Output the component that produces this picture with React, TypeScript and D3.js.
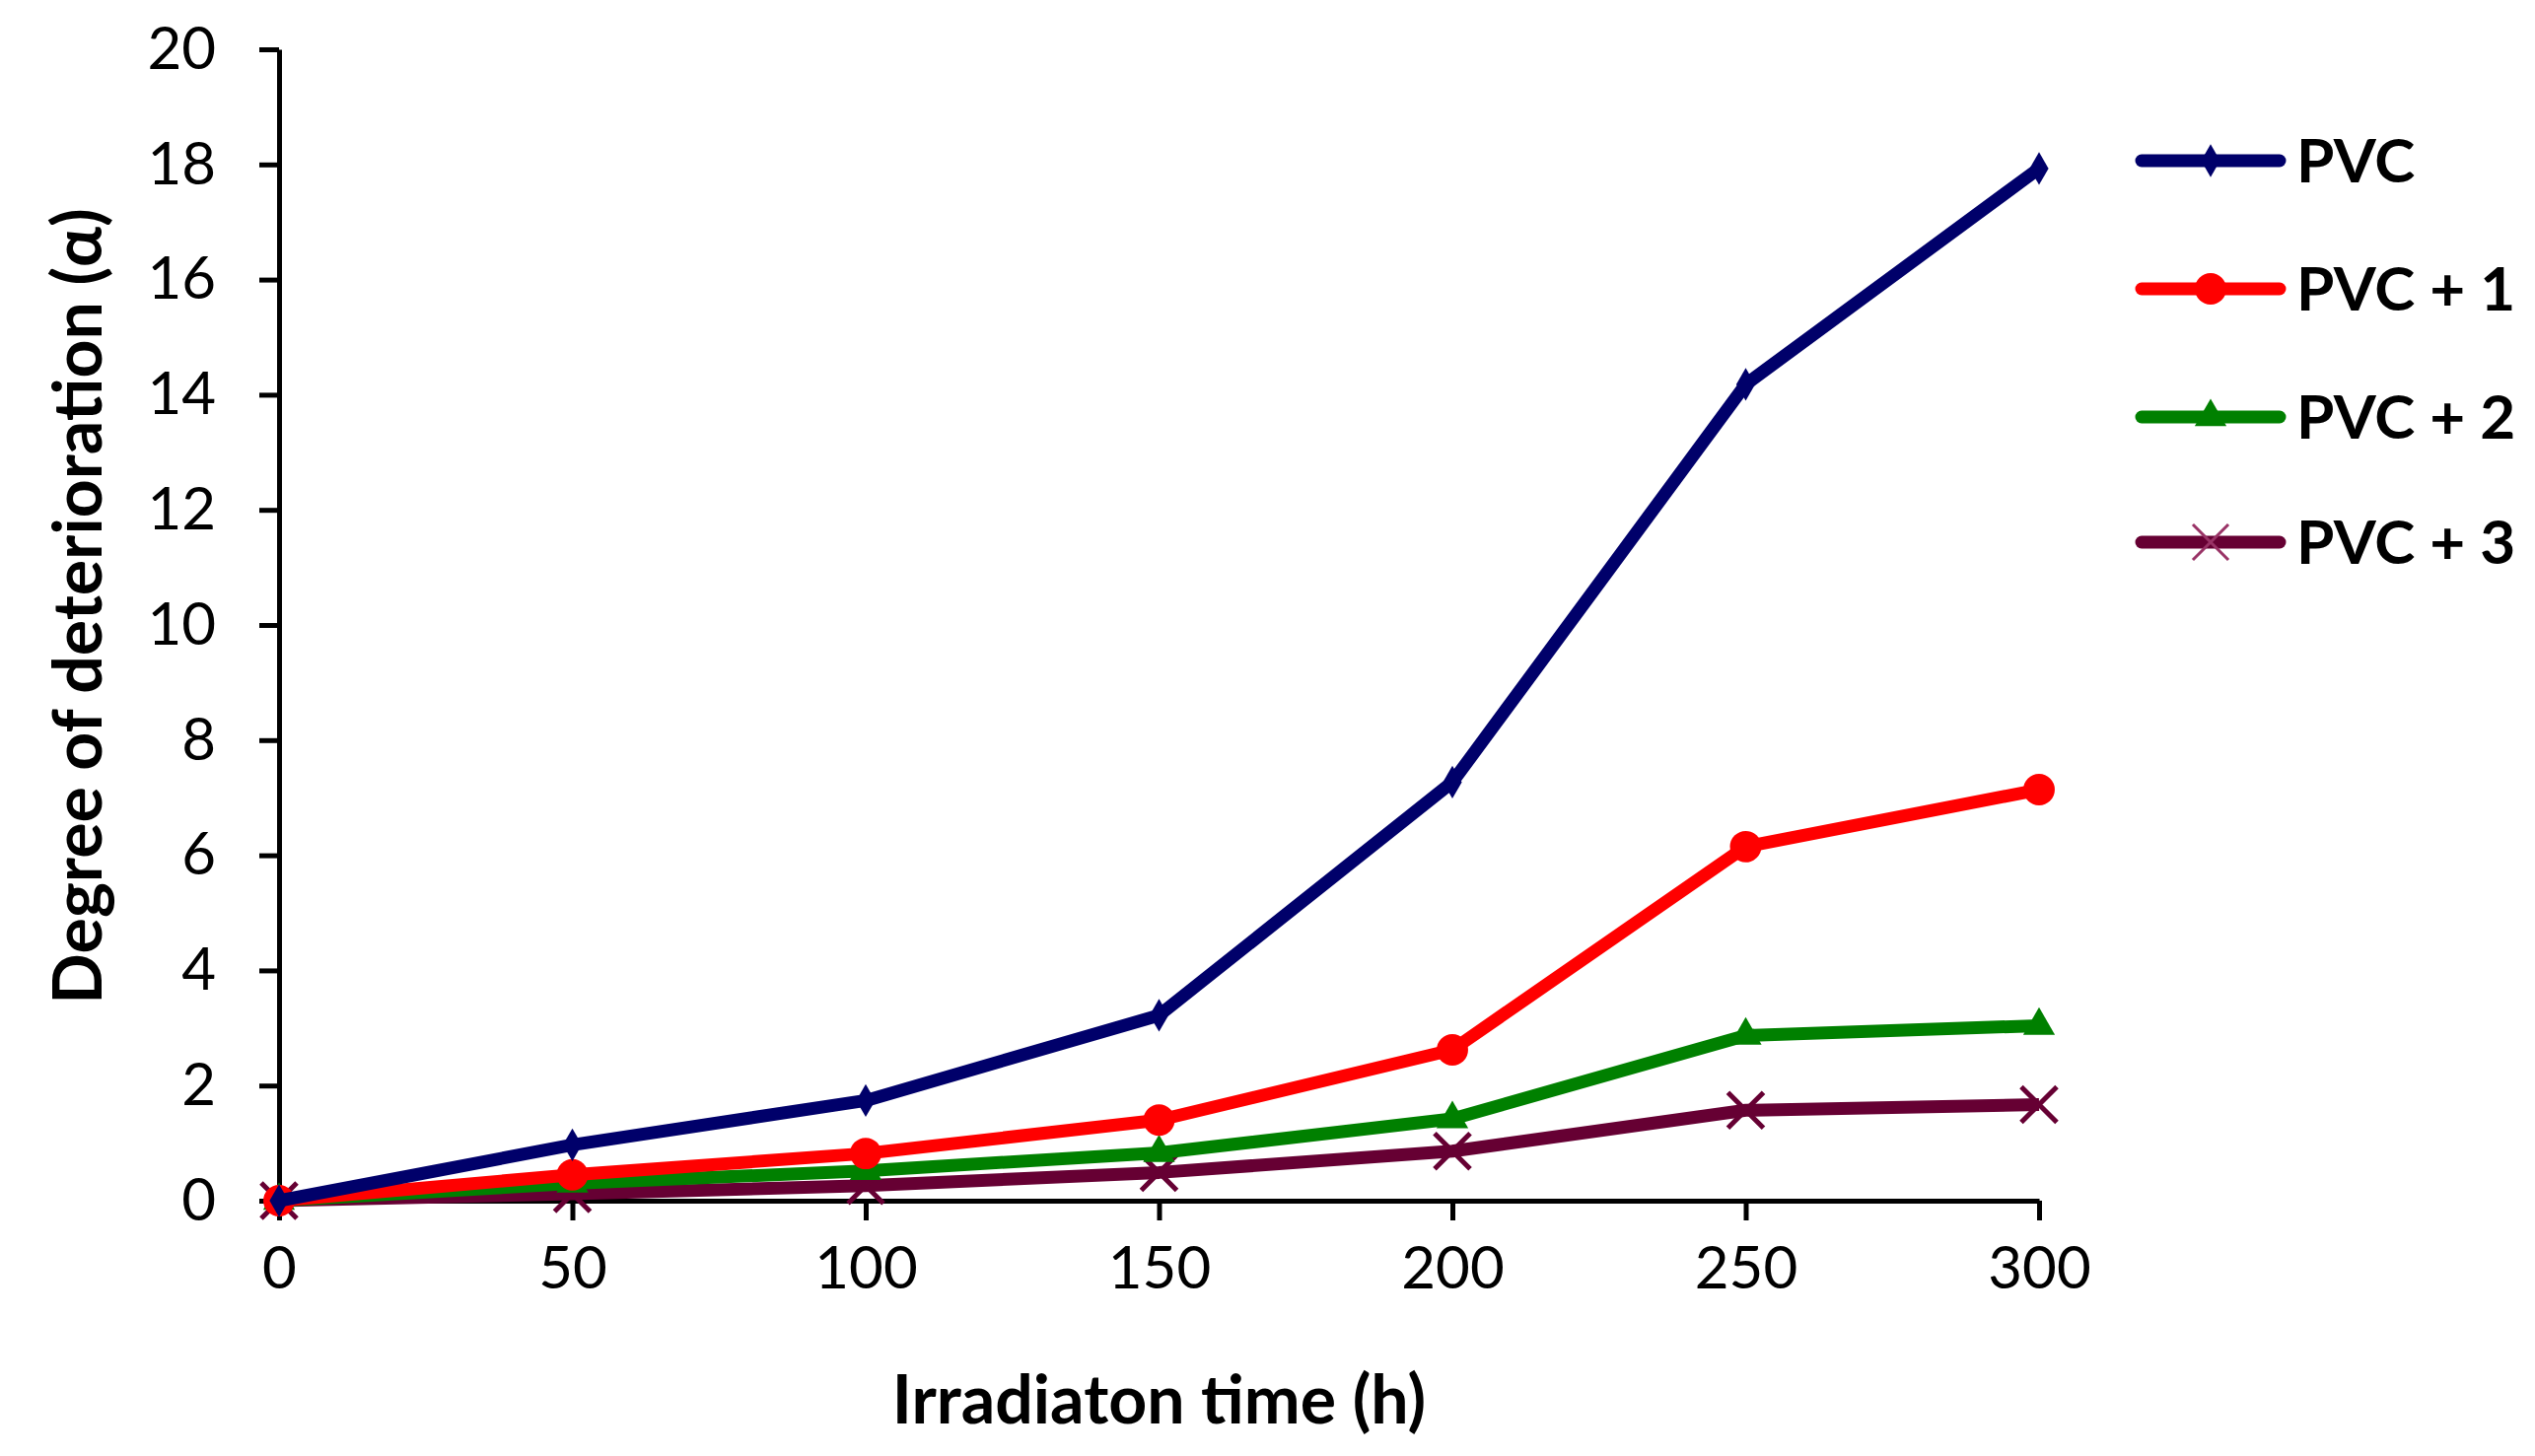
import React, { useEffect, useRef } from "react";
import * as d3 from "d3";

const HOURS = [0, 50, 100, 150, 200, 250, 300];
const PVC = [0, 0.97, 1.74, 3.22, 7.27, 14.18, 17.93];
const PVC_1 = [0, 0.45, 0.82, 1.4, 2.62, 6.15, 7.14];
const PVC_2 = [0, 0.3, 0.52, 0.83, 1.42, 2.87, 3.04];
const PVC_3 = [0, 0.12, 0.26, 0.49, 0.86, 1.57, 1.67];
const SERIES_NAMES = ["PVC", "PVC + 1", "PVC + 2", "PVC + 3"];
const COLORS = ["#00006a", "#ff0000", "#008000", "#660033"];
const Y_TICKS = [0, 2, 4, 6, 8, 10, 12, 14, 16, 18, 20];
const X_TICKS = [0, 50, 100, 150, 200, 250, 300];

const W = 2571;
const H = 1477;
const FONT = "Lato, 'Open Sans', sans-serif";

export default function App() {
  const ref = useRef<SVGSVGElement>(null);

  useEffect(() => {
    const svg = d3.select(ref.current);
    svg.selectAll("*").remove();

    const margin = { left: 283, top: 50, right: 503, bottom: 259 };
    const x = d3.scaleLinear().domain([0, 300]).range([margin.left, W - margin.right]);
    const y = d3.scaleLinear().domain([0, 20]).range([H - margin.bottom, margin.top]);

    // axes
    const xAxis = svg
      .append("g")
      .attr("transform", `translate(0,${y(0)})`)
      .call(d3.axisBottom(x).tickValues(X_TICKS).tickSize(20).tickPadding(26).tickSizeOuter(0));
    const yAxis = svg
      .append("g")
      .attr("transform", `translate(${x(0)},0)`)
      .call(d3.axisLeft(y).tickValues(Y_TICKS).tickSize(20).tickPadding(44).tickSizeOuter(0));
    [xAxis, yAxis].forEach((g) => {
      g.select(".domain").attr("stroke", "#000").attr("stroke-width", 5);
      g.selectAll(".tick line").attr("stroke", "#000").attr("stroke-width", 5);
      g.selectAll(".tick text")
        .attr("fill", "#000")
        .style("font-family", FONT)
        .style("font-size", "60px");
    });

    const allSeries = [PVC, PVC_1, PVC_2, PVC_3];
    const symbols = [d3.symbolDiamond, d3.symbolCircle, d3.symbolTriangle, d3.symbolTimes];
    const sizes = [320, 800, 450, 850];

    const line = d3
      .line<number>()
      .x((_, i) => x(HOURS[i]))
      .y((d) => y(d));

    // draw lines then markers, first series on top
    for (let s = allSeries.length - 1; s >= 0; s--) {
      svg
        .append("path")
        .attr("d", line(allSeries[s]))
        .attr("fill", "none")
        .attr("stroke", COLORS[s])
        .attr("stroke-width", 13)
        .attr("stroke-linejoin", "round");

      const sym = d3.symbol().type(symbols[s]).size(sizes[s]);
      svg
        .append("g")
        .selectAll("path")
        .data(allSeries[s])
        .enter()
        .append("path")
        .attr("transform", (d, i) => `translate(${x(HOURS[i])},${y(d)})`)
        .attr("d", sym() as string)
        .attr("fill", s === 3 ? "none" : COLORS[s])
        .attr("stroke", COLORS[s])
        .attr("stroke-width", s === 3 ? 5 : 0);
    }

    // legend
    const legendY = [163, 293, 423, 550];
    const legend = svg.append("g");
    SERIES_NAMES.forEach((name, s) => {
      const g = legend.append("g").attr("transform", `translate(0,${legendY[s]})`);
      g.append("line")
        .attr("x1", 2172)
        .attr("x2", 2312)
        .attr("stroke", COLORS[s])
        .attr("stroke-width", 13)
        .attr("stroke-linecap", "round");
      g.append("path")
        .attr("transform", "translate(2242,0)")
        .attr("d", d3.symbol().type(symbols[s]).size(sizes[s])() as string)
        .attr("fill", s === 3 ? "none" : COLORS[s])
        .attr("stroke", s === 3 ? "#993366" : COLORS[s])
        .attr("stroke-width", s === 3 ? 3 : 0);
      g.append("text")
        .attr("x", 2329)
        .attr("dy", "0.35em")
        .style("font-family", FONT)
        .style("font-weight", "bold")
        .style("font-size", "62px")
        .text(name);
    });

    // axis titles
    svg
      .append("text")
      .attr("x", (x(0) + x(300)) / 2)
      .attr("y", 1420)
      .attr("dy", "0.35em")
      .attr("text-anchor", "middle")
      .style("font-family", FONT)
      .style("font-weight", "bold")
      .style("font-size", "68px")
      .text("Irradiaton  time (h)");
    svg
      .append("text")
      .attr("transform", "translate(79,615) rotate(-90)")
      .attr("dy", "0.35em")
      .attr("text-anchor", "middle")
      .style("font-family", FONT)
      .style("font-weight", "bold")
      .style("font-size", "68px")
      .text("Degree of deterioration (α)");
  }, []);

  return (
    <svg
      ref={ref}
      width={W}
      height={H}
      style={{ position: "absolute", left: 0, top: 0, background: "#fff" }}
    ></svg>
  );
}
